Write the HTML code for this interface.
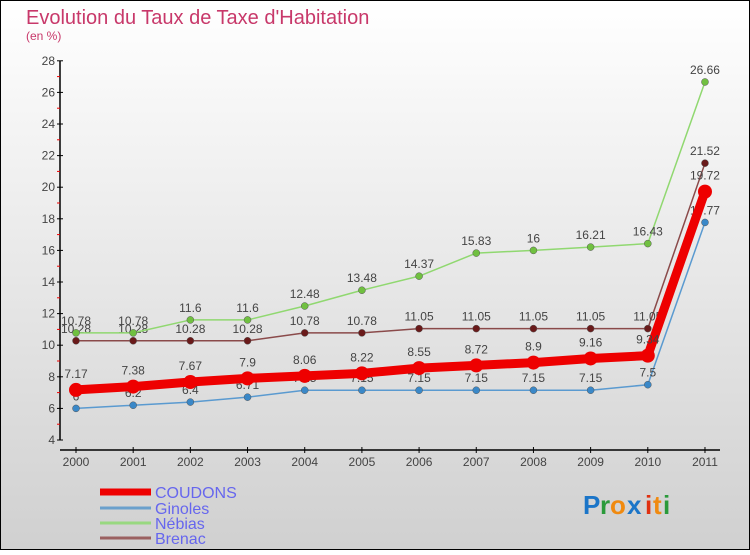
<!DOCTYPE html>
<html><head><meta charset="utf-8"><style>
html,body{margin:0;padding:0}
body{width:750px;height:550px;overflow:hidden;font-family:"Liberation Sans",sans-serif}
svg text{font-family:"Liberation Sans",sans-serif}
</style></head><body>
<svg id="chart" width="750" height="550" xmlns="http://www.w3.org/2000/svg">
<defs><linearGradient id="bg" x1="0" y1="0" x2="0" y2="1"><stop offset="0" stop-color="#ffffff"/><stop offset="1" stop-color="#d0d0d0"/></linearGradient></defs>
<rect x="0.5" y="0.5" width="749" height="549" fill="url(#bg)" stroke="#000"/>
<text x="26" y="24" font-size="20" fill="#c8386a">Evolution du Taux de Taxe d'Habitation</text>
<text x="26" y="40" font-size="12" fill="#c8386a">(en %)</text>
<g id="axes"></g><g id="series"></g><g id="legend"></g>
<g font-size="26" font-weight="bold">
<text x="583" y="514" fill="#1b75c8">P</text><text x="600" y="514" fill="#2a9a3a">r</text><text x="610" y="514" fill="#f08a10">o</text><text x="627" y="514" fill="#1b75c8">x</text><text x="645" y="514" fill="#e03010">i</text><text x="653" y="514" fill="#f08a10">t</text><text x="663" y="514" fill="#2a9a3a">i</text></g>
</svg>
<script>
const years=["2000","2001","2002","2003","2004","2005","2006","2007","2008","2009","2010","2011"];
const coudons=[7.17,7.38,7.67,7.9,8.06,8.22,8.55,8.72,8.9,9.16,9.34,19.72];
const ginoles=[6,6.2,6.4,6.71,7.15,7.15,7.15,7.15,7.15,7.15,7.5,17.77];
const nebias=[10.78,10.78,11.6,11.6,12.48,13.48,14.37,15.83,16,16.21,16.43,26.66];
const brenac=[10.28,10.28,10.28,10.28,10.78,10.78,11.05,11.05,11.05,11.05,11.05,21.52];
const yTicks=[4,6,8,10,12,14,16,18,20,22,24,26,28];
const NS="http://www.w3.org/2000/svg";
const X=i=>76+i*57.18, Y=v=>440-(v-4)*15.8;
function mk(p,t,a){const e=document.createElementNS(NS,t);for(const k in a)e.setAttribute(k,a[k]);p.appendChild(e);return e;}
const ax=document.getElementById('axes');
const yl=mk(ax,'line',{x1:60,y1:Y(28),x2:60,y2:440,stroke:'#000','stroke-width':1.5});


const xl=mk(ax,'line',{x1:60,y1:450,x2:720,y2:450,stroke:'#000','stroke-width':1.5});


yTicks.forEach(v=>{mk(ax,'line',{x1:57,x2:63,y1:Y(v),y2:Y(v),stroke:'#000'});
 if(v<28)mk(ax,'line',{x1:57,x2:60,y1:Y(v+1),y2:Y(v+1),stroke:'#e00'});
 const t=mk(ax,'text',{x:55,y:Y(v)+4,'text-anchor':'end','font-size':12,fill:'#444'});t.textContent=v;
 
 });
years.forEach((y,i)=>{mk(ax,'line',{x1:X(i),x2:X(i),y1:447,y2:453,stroke:'#000'});
 const t=mk(ax,'text',{x:X(i),y:466,'text-anchor':'middle','font-size':12,fill:'#444'});t.textContent=y;
 
 });
const sg=document.getElementById('series');
function draw(name,vals,color,w,r,dot,off){
 const g=mk(sg,'g',{});
 
 
 mk(g,'polyline',{points:vals.map((v,i)=>X(i)+','+Y(v)).join(' '),fill:'none',stroke:color,'stroke-width':w,'stroke-linejoin':'round'});
 vals.forEach((v,i)=>{const c=mk(g,'circle',{cx:X(i),cy:Y(v),r:r,fill:dot,stroke:w>3?'none':'#555','stroke-width':0.5});
  
  
  const t=mk(g,'text',{x:X(i),y:Y(v)+off,'text-anchor':'middle','font-size':12,fill:'#444'});t.textContent=v;});
}
draw('brenac',brenac,'#8a4a4a',1.5,3.5,'#6a1a1a',-8);
draw('nebias',nebias,'#90d870',1.5,3.5,'#70c040',-8);
draw('ginoles',ginoles,'#5a9ad0',1.5,3.5,'#3a88c8',-8);
draw('coudons',coudons,'#ee0000',9,7,'#ee0000',-12);
const lg=document.getElementById('legend');
[['COUDONS','#ee0000',7,492],['Ginoles','#6aa0cc',3,508],['Nébias','#98d880',3,523],['Brenac','#9a6060',3,538]].forEach(([n,c,w,y])=>{
 const g=mk(lg,'g',{});
 
 
 mk(g,'line',{x1:100,x2:151,y1:y,y2:y,stroke:c,'stroke-width':w});
 const t=mk(g,'text',{x:155,y:y+6,'font-size':16,fill:'#6666ee'});t.textContent=n;});
</script>
</body></html>
